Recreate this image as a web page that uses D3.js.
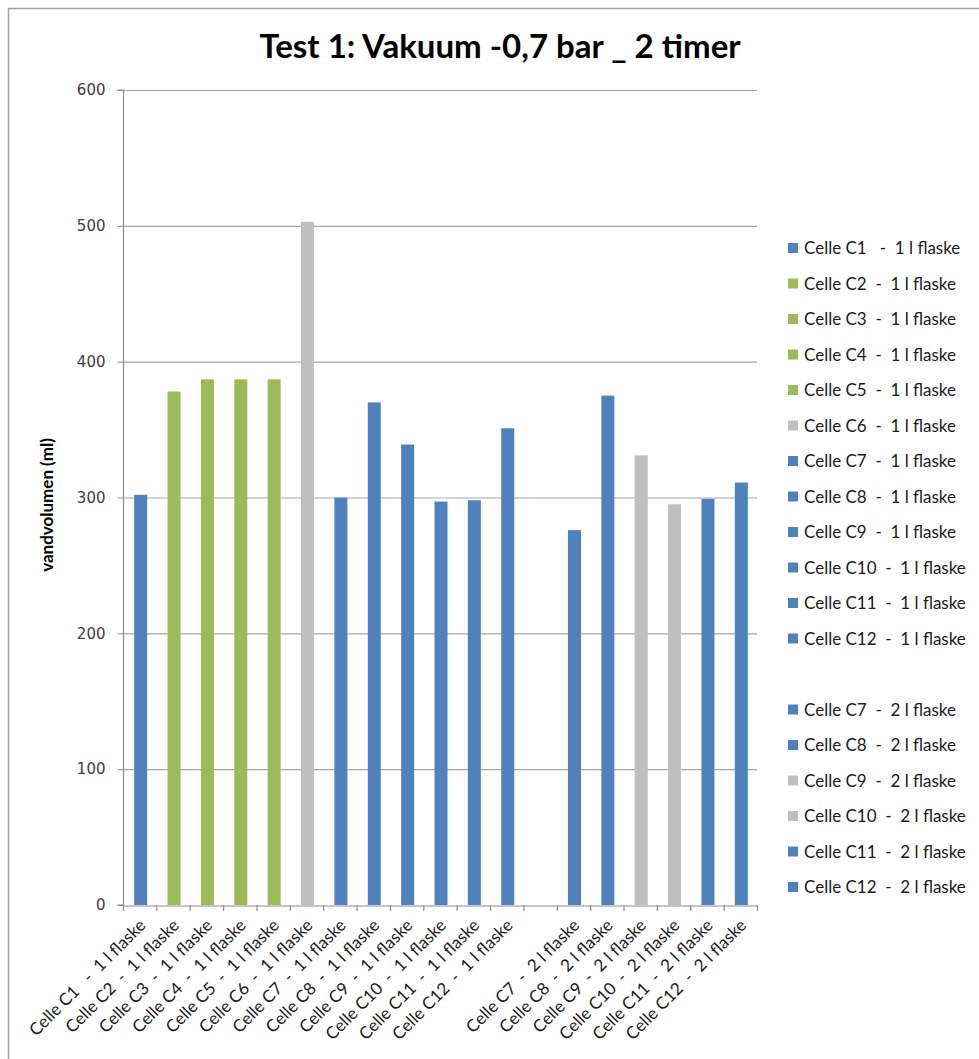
<!DOCTYPE html>
<html><head><meta charset="utf-8">
<script src="https://cdn.jsdelivr.net/npm/d3@7"></script>
<style>
body{margin:0;background:#fff;}
svg text{white-space:pre;}
</style></head>
<body><svg id="c" width="979" height="1059"></svg>
<script>
const title = "Test 1: Vakuum -0,7 bar _ 2 timer";
const yTitle = "vandvolumen (ml)";
const categories = [
 "Celle C1   -  1 l flaske","Celle C2  -  1 l flaske","Celle C3  -  1 l flaske","Celle C4  -  1 l flaske",
 "Celle C5  -  1 l flaske","Celle C6  -  1 l flaske","Celle C7  -  1 l flaske","Celle C8  -  1 l flaske",
 "Celle C9  -  1 l flaske","Celle C10  -  1 l flaske","Celle C11  -  1 l flaske","Celle C12  -  1 l flaske",
 "",
 "Celle C7  -  2 l flaske","Celle C8  -  2 l flaske","Celle C9  -  2 l flaske","Celle C10  -  2 l flaske",
 "Celle C11  -  2 l flaske","Celle C12  -  2 l flaske"
];
const values = [302,378,387,387,387,503,300,370,339,297,298,351,null,276,375,331,295,299,311];
const groups = ["a","b","b","b","b","c","a","a","a","a","a","a",null,"a","a","c","c","a","a"];
const yTicks = [0,100,200,300,400,500,600];

const color = d3.scaleOrdinal().domain(["a","b","c"]).range(["#4F81BD","#9BBB59","#BFBFBF"]);
const svg = d3.select("#c");
const font = "Lato, 'Open Sans', sans-serif";

// frame (top & left)
svg.append("path").attr("d","M8.5,1059 V8.5 H979").attr("fill","none").attr("stroke","#a0a0a0").attr("stroke-width",1.5);

const x0 = 123, x1 = 757, yTop = 90, yBot = 905;
const x = d3.scaleBand().domain(d3.range(categories.length)).range([x0,x1]).paddingInner(0).paddingOuter(0);
const y = d3.scaleLinear().domain([0,600]).range([yBot,yTop]);

// gridlines
svg.append("g").selectAll("line").data(yTicks.filter(t=>t>0)).join("line")
  .attr("x1",x0).attr("x2",x1).attr("y1",d=>y(d)+0.5).attr("y2",d=>y(d)+0.5)
  .attr("stroke","#a6a6a6").attr("stroke-width",1.2);

// bars
const bw = 13;
svg.append("g").selectAll("rect").data(values.map((v,i)=>({v,i,g:groups[i]})).filter(d=>d.v!=null)).join("rect")
  .attr("x",d=>x(d.i)+x.bandwidth()/2-bw/2+1)
  .attr("width",bw)
  .attr("y",d=>y(d.v)).attr("height",d=>y(0)-y(d.v))
  .attr("fill",d=>color(d.g));

// y axis
const yAxis = svg.append("g").attr("transform",`translate(${x0+0.5},0)`)
  .call(d3.axisLeft(y).tickValues(yTicks).tickSize(6).tickPadding(12));
yAxis.select(".domain").attr("stroke","#8c8c8c").attr("stroke-width",1.2).attr("d",`M-6,${yTop}H0V${yBot}H-6`);
yAxis.selectAll(".tick line").attr("stroke","#8c8c8c");
yAxis.selectAll(".tick text").attr("font-family","'DejaVu Sans', Verdana, sans-serif").attr("font-size",15).attr("fill","#404040");

// x axis
const xAxis = svg.append("g").attr("transform",`translate(0,${yBot+0.5})`)
  .call(d3.axisBottom(x).tickSize(0).tickFormat(i=>categories[i]));
xAxis.select(".domain").attr("stroke","#8c8c8c").attr("stroke-width",1.2);
xAxis.selectAll(".tick line").remove();
svg.append("g").selectAll("line").data(d3.range(categories.length+1)).join("line")
  .attr("x1",i=>x0+i*x.bandwidth()+0.5).attr("x2",i=>x0+i*x.bandwidth()+0.5)
  .attr("y1",yBot).attr("y2",yBot+6).attr("stroke","#8c8c8c").attr("stroke-width",1.2);
xAxis.selectAll(".tick text")
  .attr("font-family",font).attr("font-size",17).attr("fill","#1a1a1a")
  .attr("text-anchor","end").attr("dy",0).attr("y",0)
  .attr("transform","translate(7,21) rotate(-45)");

// title
svg.append("text").attr("x",500).attr("y",58).attr("text-anchor","middle")
  .attr("font-family",font).attr("font-weight","bold").attr("font-size",33).attr("fill","#000").text(title);

// y title
svg.append("text").attr("transform","translate(53,505) rotate(-90)").attr("text-anchor","middle")
  .attr("font-family",font).attr("font-weight","bold").attr("font-size",17).attr("fill","#000").text(yTitle);

// legend
const legendRows = categories.map((c,i)=>({c,g:groups[i],i}));
const lg = svg.append("g");
const ly = d3.scaleLinear().domain([0,18]).range([248,887]);
const items = lg.selectAll("g").data(legendRows.filter(d=>d.c!=="")).join("g")
  .attr("transform",d=>`translate(788,${ly(d.i)})`);
items.append("rect").attr("x",0).attr("y",-5).attr("width",10).attr("height",10).attr("fill",d=>color(d.g));
items.append("text").attr("x",16).attr("y",6).attr("font-family",font).attr("font-size",17).attr("fill","#1a1a1a").text(d=>d.c);
</script></body></html>
